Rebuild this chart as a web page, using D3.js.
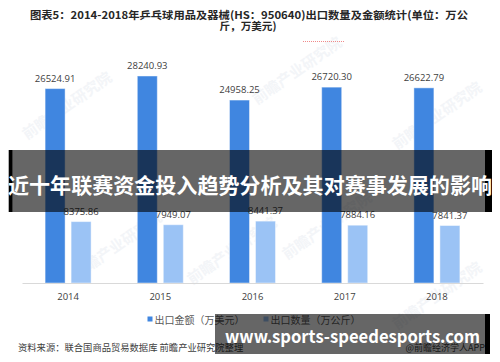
<!DOCTYPE html>
<html lang="zh">
<head>
<meta charset="UTF-8">
<title>乒乓球用品及器械出口统计</title>
<script src="https://cdn.jsdelivr.net/npm/d3@7"></script>
<style>
  body { margin: 0; background: #fff; }
  svg { display: block; }
  text { font-family: "Noto Sans CJK SC", "Noto Sans", sans-serif; }
  .num { font-family: "Open Sans", "Noto Sans", sans-serif; }
</style>
</head>
<body>
<script>
  // data
  var years = ["2014", "2015", "2016", "2017", "2018"];
  var amount = [26524.91, 28240.93, 24958.25, 26720.30, 26622.79];   // 出口金额（万美元）
  var quantity = [8375.86, 7949.07, 8441.37, 7884.16, 7841.37];     // 出口数量（万公斤）
  var seriesNames = ["出口金额（万美元）", "出口数量（万公斤）"];
  var seriesKeys = ["amount", "qty"];
  var colors = ["#4086e0", "#9bc3f5"];

  var width = 500, height = 362;
  var svg = d3.select("body").append("svg")
    .attr("width", width)
    .attr("height", height);

  svg.append("rect").attr("width", width).attr("height", height).attr("fill", "#fff");

  // faint watermarks
  var marks = [[70, 110], [300, 75], [235, 255], [440, 120], [330, 230], [120, 250], [440, 300]];
  svg.append("g").selectAll("text").data(marks).enter().append("text")
    .attr("transform", function (d) { return "translate(" + d[0] + "," + d[1] + ") rotate(-35)"; })
    .attr("text-anchor", "middle")
    .attr("font-size", 15)
    .attr("font-weight", "bold")
    .attr("fill", "#f3f5f8")
    .text("前瞻产业研究院");

  // title
  var title = svg.append("g").attr("fill", "#262626").attr("font-weight", "bold")
    .attr("font-size", 10.6).attr("text-anchor", "middle");
  title.append("text").attr("x", 249).attr("y", 18.5)
    .attr("textLength", 438).attr("lengthAdjust", "spacingAndGlyphs")
    .text("图表5：2014-2018年乒乓球用品及器械(HS：950640)出口数量及金额统计(单位：万公");
  title.append("text").attr("x", 248).attr("y", 29.5).text("斤，万美元)");

  svg.append("line")
    .attr("x1", 303).attr("x2", 345).attr("y1", 41.5).attr("y2", 41.5)
    .attr("stroke", "#f08a8a").attr("stroke-width", 1).attr("stroke-dasharray", "1,1");

  // scales
  var x = d3.scaleBand().domain(years).range([22, 483]);
  var x1 = d3.scaleBand().domain(seriesKeys)
    .range([x.bandwidth() / 2 - 23, x.bandwidth() / 2 + 23])
    .paddingInner(0.2308);
  var y = d3.scaleLinear().domain([0, 30000]).range([283, 63.1]);

  var rows = years.map(function (yr, i) {
    return { year: yr, values: [{ key: "amount", v: amount[i] }, { key: "qty", v: quantity[i] }] };
  });

  var groups = svg.append("g").selectAll("g").data(rows).enter().append("g")
    .attr("transform", function (d) { return "translate(" + x(d.year) + ",0)"; });

  groups.selectAll("rect").data(function (d) { return d.values; }).enter().append("rect")
    .attr("x", function (d) { return x1(d.key); })
    .attr("y", function (d) { return y(d.v); })
    .attr("width", x1.bandwidth())
    .attr("height", function (d) { return y(0) - y(d.v); })
    .attr("fill", function (d, i) { return colors[i]; })
    .attr("stroke", "rgba(255,255,255,0.45)")
    .attr("stroke-width", 1);

  groups.selectAll("text.lab").data(function (d) { return d.values; }).enter().append("text")
    .attr("class", "lab num")
    .attr("x", function (d) { return x1(d.key) + x1.bandwidth() / 2; })
    .attr("y", function (d) { return y(d.v) - 7; })
    .attr("text-anchor", "middle")
    .attr("font-size", 9.5)
    .attr("fill", "#404040")
    .text(function (d) { return d.v.toFixed(2); });

  // x axis
  var xAxis = svg.append("g").attr("transform", "translate(0,283)")
    .call(d3.axisBottom(x).tickSize(0).tickPadding(10));
  xAxis.select(".domain").attr("stroke", "#d9d9d9");
  xAxis.selectAll("text").attr("class", "num").attr("font-size", 9.5).attr("fill", "#404040");

  // legend
  var legendX = [147.5, 263.5];
  var legend = svg.append("g").selectAll("g").data(seriesNames).enter().append("g")
    .attr("transform", function (d, i) { return "translate(" + legendX[i] + ",316.5)"; });
  legend.append("rect").attr("width", 5).attr("height", 5)
    .attr("fill", function (d, i) { return colors[i]; });
  legend.append("text").attr("x", 7).attr("y", 2.5).attr("dominant-baseline", "central")
    .attr("font-size", 10).attr("fill", "#595959")
    .text(function (d) { return d; });

  // source
  svg.append("text").attr("x", 18).attr("y", 351)
    .attr("font-size", 9.3).attr("fill", "#404040")
    .text("资料来源：联合国商品贸易数据库 前瞻产业研究院整理");
  svg.append("text").attr("x", 485).attr("y", 351).attr("text-anchor", "end")
    .attr("font-size", 9).attr("fill", "#404040")
    .text("@前瞻经济学人APP");

  // overlay banners
  svg.append("rect").attr("x", 8.7).attr("y", 150).attr("width", 4).attr("height", 62).attr("fill", "#000");
  svg.append("rect").attr("x", 485).attr("y", 150).attr("width", 7).attr("height", 62).attr("fill", "#000");
  svg.append("rect").attr("x", 12.7).attr("y", 150).attr("width", 472.3).attr("height", 62)
    .attr("fill", "#000").attr("fill-opacity", 0.6);
  svg.append("text").attr("x", 250).attr("y", 184)
    .attr("text-anchor", "middle").attr("dominant-baseline", "central")
    .attr("font-size", 21).attr("font-weight", "bold").attr("fill", "#fff")
    .attr("textLength", 484).attr("lengthAdjust", "spacingAndGlyphs")
    .text("近十年联赛资金投入趋势分析及其对赛事发展的影响");

  svg.append("rect").attr("x", 485).attr("y", 314).attr("width", 5).attr("height", 40).attr("fill", "#000");
  svg.append("rect").attr("x", 215).attr("y", 314).attr("width", 270).attr("height", 40)
    .attr("fill", "#000").attr("fill-opacity", 0.6);
  svg.append("text").attr("x", 225).attr("y", 343)
    .attr("font-family", "DejaVu Sans, sans-serif")
    .attr("font-size", 18).attr("font-weight", "bold").attr("fill", "#fff")
    .attr("textLength", 255).attr("lengthAdjust", "spacingAndGlyphs")
    .text("www.sports-speedesports.com");
</script>
</body>
</html>
